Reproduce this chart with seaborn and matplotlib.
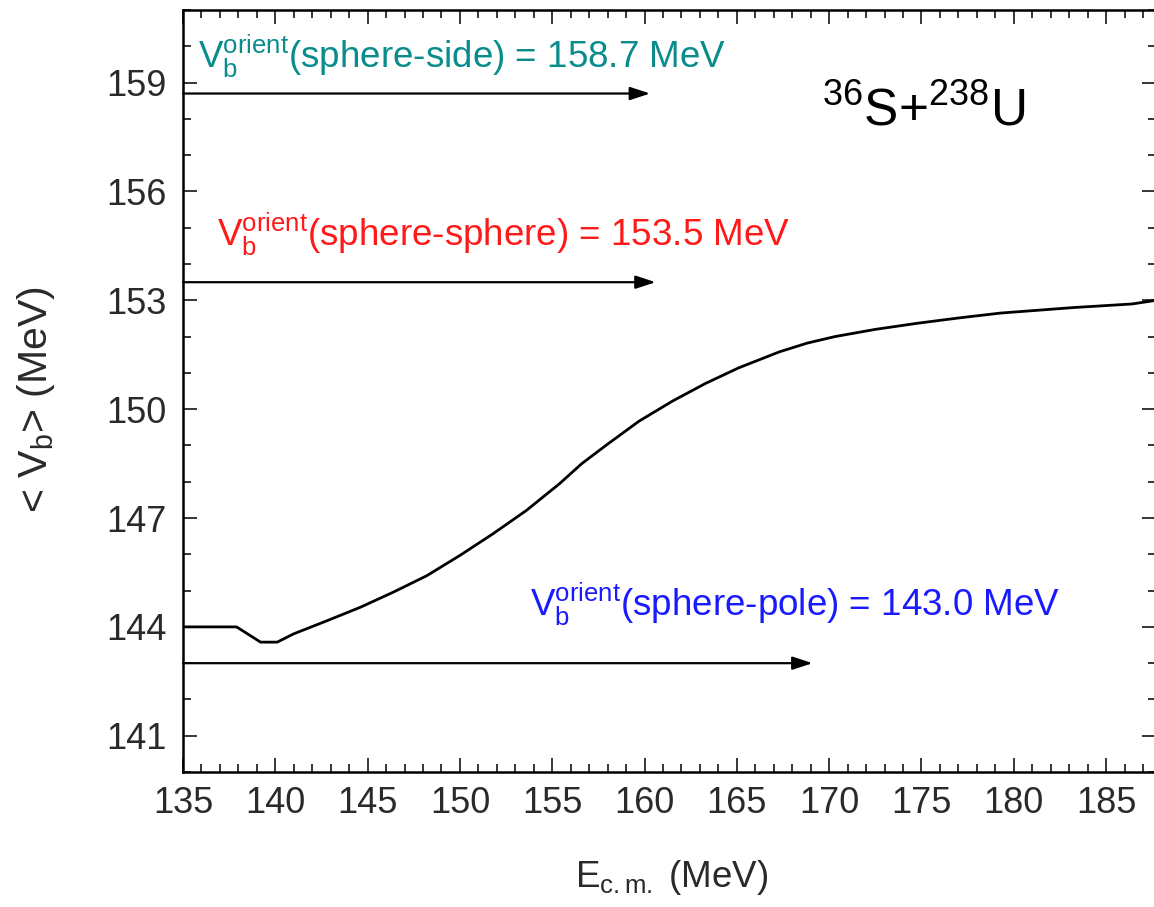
import matplotlib
matplotlib.use("Agg")
import matplotlib.pyplot as plt
from matplotlib import font_manager
from matplotlib.ticker import MultipleLocator
import seaborn as sns

# Mean barrier height versus centre-of-mass energy for 36S + 238U
e_cm = [135.0, 137.9, 139.2, 140.1, 141.0, 142.8, 144.6, 146.4, 148.2, 150.0,
        151.8, 153.6, 155.4, 156.6, 157.9, 159.7, 161.5, 163.3, 165.1, 167.3,
        168.8, 170.3, 172.5, 174.8, 177.1, 179.3, 183.2, 186.4, 187.7]
v_mean = [144.0, 144.0, 143.58, 143.58, 143.81, 144.17, 144.54, 144.96, 145.41, 145.97,
          146.57, 147.21, 147.95, 148.5, 149.0, 149.67, 150.22, 150.71, 151.14, 151.58,
          151.82, 152.0, 152.2, 152.37, 152.52, 152.65, 152.8, 152.9, 153.0]

# Barriers for fixed orientations
orient_names = ["sphere-side", "sphere-sphere", "sphere-pole"]
orient_values = [158.7, 153.5, 143.0]
orient_arrow_end = [160.3, 160.6, 169.1]
orient_colors = ["#0a8c8c", "#ff1a1a", "#1a1aff"]
orient_text_pos = [(135.8, 159.4), (136.85, 154.5), (153.8, 144.3)]

x_ticks = [135, 140, 145, 150, 155, 160, 165, 170, 175, 180, 185]
y_ticks = [141, 144, 147, 150, 153, 156, 159]

sns.set_style("ticks")
available = {f.name for f in font_manager.fontManager.ttflist}
family = "Liberation Sans Narrow" if "Liberation Sans Narrow" in available else "Liberation Sans"
plt.rcParams["font.family"] = [family, "DejaVu Sans"]
plt.rcParams["mathtext.fontset"] = "custom"
plt.rcParams["mathtext.rm"] = family
plt.rcParams["mathtext.it"] = family
plt.rcParams["mathtext.bf"] = family

fig = plt.figure(figsize=(11.54, 9.07), dpi=100)
ax = fig.add_axes([0.1586, 0.1488, 0.8431, 0.8401])

sns.lineplot(x=e_cm, y=v_mean, ax=ax, color="black", linewidth=2.0, estimator=None, sort=False)

for name, val, xend, col, (tx, ty) in zip(orient_names, orient_values, orient_arrow_end,
                                           orient_colors, orient_text_pos):
    ax.annotate("", xy=(xend, val), xytext=(135.0, val),
                arrowprops=dict(arrowstyle="-|>,head_length=0.55,head_width=0.18",
                                mutation_scale=22, lw=1.6, color="black",
                                shrinkA=0, shrinkB=0))
    ax.text(tx, ty, r"V$_\mathregular{b}^\mathregular{orient}$(" + name + f") = {val:.1f} MeV",
            color=col, fontsize=26.5, ha="left", va="baseline")

ax.text(169.6, 157.83, r"$^\mathregular{36}$S+$^\mathregular{238}$U", color="black",
        fontsize=37, ha="left", va="baseline")

ax.set_xlim(135, 187.7)
ax.set_ylim(140, 161)
ax.set_xticks(x_ticks)
ax.set_yticks(y_ticks)
ax.xaxis.set_minor_locator(MultipleLocator(1))
ax.yaxis.set_minor_locator(MultipleLocator(1))
ax.tick_params(which="both", direction="in", top=True, right=True, width=1.1, color="black")
ax.tick_params(which="major", length=10)
ax.tick_params(which="minor", length=6)
ax.tick_params(axis="x", which="major", pad=10, labelsize=26, labelcolor="#2a2a2a")
ax.tick_params(axis="y", which="major", pad=12, labelsize=26, labelcolor="#2a2a2a")
for s in ax.spines.values():
    s.set_linewidth(1.8)
    s.set_color("black")

ax.set_xlabel(r"E$_\mathregular{c.m.}$ (MeV)", fontsize=26.5, color="#2a2a2a", va="center", ha="center")
ax.xaxis.set_label_coords(0.502, -0.138)
ax.set_ylabel(r"< V$_\mathregular{b}$> (MeV)", fontsize=29.5, color="#2a2a2a", va="center", ha="center")
ax.yaxis.set_label_coords(-0.151, 0.488)

fig.savefig("out.png", dpi=100)
